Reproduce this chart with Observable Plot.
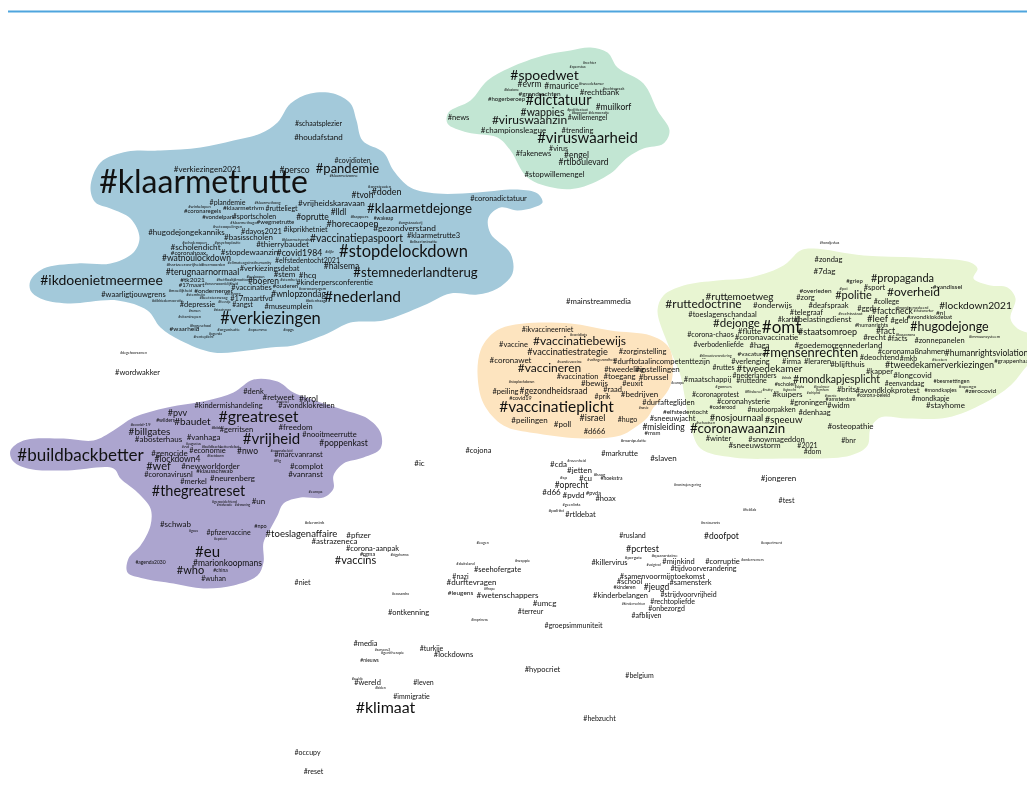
<!DOCTYPE html>
<html><head><meta charset="utf-8">
<style>html,body{margin:0;padding:0;background:#fff}svg{display:block}</style>
<script src="https://cdn.jsdelivr.net/npm/d3@7"></script>
<script src="https://cdn.jsdelivr.net/npm/@observablehq/plot@0.6"></script>
</head><body><div id="chart"></div>
<script>
const blueOutline=[[90,187],[100,162],[127,151],[160,150],[200,147],[233,140],[260,133],[277,122],[290,103],[310,93],[333,93],[350,103],[356,120],[362,140],[383,152],[393,170],[410,187],[437,193],[477,192],[517,189],[537,193],[542,202],[533,207],[517,210],[500,207],[488,217],[490,233],[510,253],[512,273],[497,288],[477,294],[450,293],[423,305],[383,320],[350,322],[327,333],[293,345],[270,347],[247,350],[213,352],[180,340],[160,327],[147,310],[117,300],[67,303],[40,298],[30,290],[30,280],[43,268],[77,263],[110,263],[133,252],[139,237],[130,218],[110,208],[95,202]];
const mintOutline=[[590,47],[607,52],[617,67],[643,83],[657,110],[669,130],[663,143],[643,148],[627,157],[610,173],[580,187],[557,188],[527,177],[510,150],[497,137],[467,132],[447,123],[448,112],[470,100],[487,80],[510,67],[543,55],[570,50]];
const orangeOutline=[[500,328],[523,323],[570,323],[610,330],[650,335],[667,345],[672,358],[670,385],[660,400],[653,407],[647,417],[633,428],[620,435],[583,438],[537,433],[503,425],[483,403],[477,373],[480,350],[488,337]];
const purpleOutline=[[253,379],[277,381],[293,392],[320,402],[345,410],[367,418],[380,432],[380,448],[363,457],[343,463],[333,475],[333,488],[323,497],[300,497],[283,503],[277,515],[270,528],[263,542],[263,562],[257,575],[233,585],[203,588],[173,583],[143,578],[127,572],[128,558],[140,545],[150,525],[150,508],[137,492],[120,478],[113,468],[67,470],[27,468],[12,460],[10,450],[23,440],[63,438],[93,440],[113,430],[133,417],[167,407],[207,400],[233,392]];
const limeOutline=[[657,310],[663,295],[683,285],[717,280],[750,277],[783,265],[800,250],[813,248],[863,255],[917,257],[970,262],[977,268],[973,278],[990,285],[1007,287],[1015,298],[1010,318],[1017,328],[1035,336],[1045,350],[1027,365],[1010,385],[983,403],[947,417],[907,418],[880,417],[870,428],[867,445],[850,455],[783,458],[733,457],[700,448],[690,425],[684,395],[680,375],[668,345]];

const blueTags=[["#verkiezingen2021",207,169,8],["#klaarmetrutte",203,182,32],["#persco",294,170,8.6],["#pandemie",347,168,13],["#covidioten",352,160,7],["#klaarmetzonne",343,175,4],["#schaatsplezier",318,123,7],["#houdafstand",318,137,8],["#coronadictatuur",498,198,7.5],["#tvoh",362,195,8.5],["#doden",386,192,9],["#angstzaaien",379,186,4],["#vrijheidskaravaan",331,203,8.2],["#klaarmetdejonge",419,208,13.3],["#lldl",338,212,8.5],["#oprutte",312,217,8.5],["#kappers",359,216,4.5],["#wakeap",383,218,5],["#angstzaaierij",410,222,4],["#horecaopen",352,224,9],["#gezondverstand",404,228,8.3],["#ikprikhetniet",305,229,7.2],["#klaarmetrutte3",433,235,7.5],["#vaccinatiepaspoort",356,238,10.5],["#discriminatie",423,241,4.5],["#klaarmetvondst",296,239,4],["#thierrybaudet",282,244,8],["#djlv",329,251,4],["#stopdelockdown",403,251,16.5],["#covid1984",299,253,8.7],["#elfstedentocht2021",307,260,7],["#halsema",341,266,8.5],["#stemnederlandterug",415,272,13.2],["#hcq",307,275,8],["#stem",284,274,8],["#stemhet",288,279,4],["#kinderpersconferentie",334,282,7.5],["#ouderen",285,286,6],["#coronamugem",312,288,4],["#wnlopzondag",298,294,8.5],["#bdenhaag",315,300,4],["#nederland",362,297,15.5],["#museumplein",288,306,7.5],["#verkiezingen",270,318,16.5],["#opgs",288,329,4],["#plandemie",227,202,7],["#winkelopen",199,206,4],["#klaarmetkoog",267,202,4],["#klaarmetrivm",243,207,6.5],["#coronaregels",202,211,6],["#rutteliegt",281,208,7],["#vondelpark",218,217,6],["#sportscholen",254,216,7],["#klaarmethugo",243,222,4],["#wegmetrutte",275,222,6],["#vetcoopelingen",227,226,4],["#hugodejongekanniks",186,232,8],["#davos2021",261,231,7.5],["#basisscholen",248,237,8],["#scholenopen",194,242,4],["#psychoplastic",227,242,4],["#scholendicht",195,247,8.2],["#coronahoax",188,253,6.2],["#stopdewaanzin",249,252,8],["#watnoulockdown",196,258,8.5],["#hartzeerovrijheid",184,264,4.5],["#vermoorden",213,264,4],["#climateagainsthumanity",249,262,4],["#verkiezingsdebat",269,268,7.5],["#terugnaarnormaal",202,272,8.8],["#tk2021",192,279,6.5],["#17maart",191,285,6],["#hetfloaltj",225,279,4],["#motion",241,279,4],["#besloopen",255,276,3.5],["#boeren",263,281,8.5],["#onverwoordelijkheid",221,283,3.5],["#vaccinaties",251,287,7.5],["#moeilijkheid",180,290,4],["#ondernemer",213,290,6.5],["#stemhulp",195,294,4],["#zelfzorg",232,293,4],["#beetsterzwaag",213,297,4],["#17maartfvd",251,298,7.5],["#dikkiedemocratie",167,300,3.8],["#waarligtjouwgrens",133,294,7.5],["#ikdoenietmeermee",101,280,14],["#depressie",197,304,7.5],["#angst",242,304,7],["#feestje",224,301,3.5],["#ramen",194,310,3.5],["#staatsman",222,309,3.5],["#vitaminepen",189,316,3.8],["#hogeschool",200,325,3.8],["#waarheid",184,328,6.5],["#organisatie",228,329,4.2],["#opsemma",257,329,3.8],["#agenda",215,333,3.5],["#renteplicht",203,336,3.8]];
const mintTags=[["#spoedwet",544,75,14],["#rechter",589,62,3.5],["#apenstaa",577,66,3.5],["#evrm",529,84,8.5],["#maurice",561,86,8.5],["#tweedekamer",591,83,3.8],["#rechtspraak",613,88,3.8],["#blazione",511,89,3.5],["#grondrechten",539,93,6.5],["#rechtbank",599,92,8],["#hogerberoep",506,99,6],["#dictatuur",558,100,14.5],["#muilkorf",613,107,8.5],["#politiestaat",577,109,3.8],["#bonsuur #democratie",590,112,3.8],["#wappies",542,112,10.5],["#willemengel",587,117,6.8],["#news",458,117,7.5],["#viruswaanzin",529,120,12],["#championsleague",513,130,8],["#trending",577,130,7.5],["#viruswaarheid",587,138,15],["#virus",558,148,7],["#fakenews",533,153,7.5],["#engel",576,155,8.5],["#rtlboulevard",583,162,8.5],["#stopwillemengel",554,174,7.8]];
const orangeTags=[["#ikvaccineerniet",547,329,7.2],["#covidiots",578,334,3.8],["#vaccinatiebewijs",579,341,12],["#vaccine",513,344,7.5],["#vaccinatiestrategie",567,352,9.2],["#zorginstelling",642,351,7.5],["#coronawet",510,360,8],["#vandevaccine",569,361,3.8],["#volksgezondheid",601,359,3.6],["#durftotaalincompetenttezijn",661,361,7.6],["#vaccineren",549,368,12],["#vaccination",577,376,7.5],["#tweedeling",624,369,7.5],["#instellingen",657,369,8],["#toegang",619,376,7.8],["#brussel",653,377,8],["#stoplockdown",521,381,3.8],["#bewijs",594,383,8],["#euxit",632,383,7.5],["#raad",612,389,7.5],["#peiling",505,391,7.5],["#gezondheidsraad",553,391,8.5],["#bedrijven",639,394,8],["#prik",602,396,7],["#covid19",520,398,5.5],["#durfafteglijden",668,402,7.5],["#vaccinatieplicht",556,407,15.5],["#nasic",643,407,3.5],["#hugo",627,419,7],["#peilingen",529,420,8],["#poll",562,424,8],["#israel",592,418,9],["#d666",594,431,7.5],["#elfstedentocht",685,411,6.5],["#sneeuwjacht",672,418,7.5],["#misleiding",663,427,8.5],["#msm",652,433,6],["#manipulatie",633,440,4.5],["#europa",677,382,3.5]];
const limeTags=[["#zondag",828,259,7.5],["#7dag",824,271,8],["#overleden",815,290,6.5],["#zorg",805,297,7.5],["#ruttemoetweg",739,296,10],["#ruttedoctrine",703,304,12],["#onderwijs",772,305,8],["#deafspraak",828,305,7.5],["#telegraaf",806,312,7.5],["#toeslagenschandaal",722,314,7.5],["#dejonge",736,323,11.5],["#kartel",788,319,7],["#belastingdienst",822,319,8],["#omt",781,327,17],["#flutte",749,331,8],["#corona-chaos",710,334,7.2],["#coronavaccinatie",766,337,8],["#staatsomroep",827,332,9],["#verbodenliefde",718,344,7],["#haga",759,345,7.5],["#goedemorgennederland",838,345,8],["#klimaatverandering",715,355,3.6],["#vacature",751,353,6.5],["#mensenrechten",810,352,13],["#ruttes",723,367,7],["#verlenging",750,361,7.5],["#irma",791,361,7.5],["#leraren",817,361,7.5],["#tweedekamer",769,368,10],["#blijfthuis",847,364,8],["#maatschappij",707,379,7.5],["#nederlanders",754,375,7],["#ruttedne",751,380,7],["#dnds",786,377,3.5],["#scholen",785,384,5.5],["#mondkapjesplicht",836,379,10.5],["#gonners",723,386,4],["#kapper",879,371,7.5],["#deochtend",879,357,7.5],["#mkb",908,358,7],["#coronamaßnahmen",911,351,7.5],["#humanrightsviolation",986,353,8.5],["#grappenhaar",1012,361,6],["#tweedekamerverkiezingen",939,365,9],["#testen",939,359,4.5],["#longcovid",912,375,8],["#eenvandaag",904,383,6.8],["#besmettingen",951,381,5.5],["#opengo",967,386,4.5],["#zerocovid",980,390,6.5],["#mondkapjes",940,390,5.5],["#avondklokprotest",887,390,7.8],["#brits",846,389,7.5],["#corona-beleid",873,395,5],["#amsterdam",840,399,5.5],["#widm",838,405,7.5],["#mondkapje",930,398,7],["#stayhome",945,405,8],["#osteopathie",850,426,8],["#bnr",848,440,7],["#propaganda",902,278,11],["#griep",854,281,6],["#pci",843,288,4.5],["#sport",874,287,7.5],["#yandissel",947,286,6.5],["#overheid",913,292,12],["#politie",853,295,11],["#college",886,301,7],["#lockdown2021",975,305,10.2],["#ggd",865,308,7.5],["#factcheck",892,311,8.5],["#rechtsstaat",850,313,4.5],["#mondgemaskeerd",912,307,3.8],["#thuiswerker",923,310,3.5],["#nl",940,312,6.5],["#leef",877,318,9.5],["#geld",899,320,7.5],["#avondklokdebat",929,317,6],["#humanrights",871,325,5.5],["#hugodejonge",949,326,12.5],["#fact",885,331,8.5],["#facts",897,338,7.5],["#recht",874,337,8],["#kuscorona",905,334,3.8],["#zonnepanelen",939,340,7.5],["#immuunsysteem",984,336,4],["#coronaprotest",715,394,7],["#flitsbevel",753,391,3.8],["#kuipers",787,394,8],["#nutty",767,389,3.5],["#utrecht",789,389,3.5],["#alpha",799,386,3.2],["#ijsselmeer",821,386,3.2],["#arnhem",822,389,3.2],["#schiphol",813,392,3.2],["#twente",830,395,3.2],["#groningen",808,402,7.5],["#coronahysterie",743,401,7.5],["#coderood",722,407,5.5],["#nudoorpakken",771,409,7],["#denhaag",814,412,7.5],["#nosjournaal",736,417,9.5],["#sneeuw",783,419,9.5],["#schaatsen",705,422,3.8],["#coronawaanzin",737,428,13.3],["#winter",718,438,7.5],["#snowmageddon",776,439,7.5],["#sneeuwstorm",754,445,8],["#2021",807,445,7],["#dom",812,451,7]];
const purpleTags=[["#denk",253,391,7.5],["#retweet",278,397,8],["#krol",308,399,8.5],["#wjetel",282,401,3.8],["#kindermishandeling",228,405,7.5],["#avondklokrellen",306,405,7.5],["#pvv",177,413,9],["#wilders",165,420,5],["#baudet",192,421,10],["#greatreset",258,416,16],["#covid-19",140,424,4.5],["#bbb",216,427,4.5],["#gerritsen",236,429,7.5],["#freedom",295,427,8],["#billgates",149,431,10],["#nooitmeerrutte",329,434,7.5],["#vanhaga",203,437,8],["#abosterhaus",158,439,8],["#vrijheid",271,439,15],["#poppenkast",343,443,8.5],["#vvd",185,446,3.5],["#augustus",193,443,3.3],["#buildbackbetterdebat",220,446,3.8],["#coronabeleid",281,450,3.5],["#buildbackbetter",80,455,17],["#genocide",169,453,8],["#economie",207,450,7.5],["#nwo",247,451,8.5],["#marcvanranst",298,454,7.5],["#lockdown4",177,459,8.5],["#factdown",215,455,3.5],["#f5g",277,460,3.5],["#wef",158,466,11],["#newworldorder",210,466,8],["#complot",306,466,8],["#klausschwab",214,471,6],["#coronavirusnl",168,474,7.5],["#vanranst",305,474,8],["#neurenberg",232,478,8],["#merkel",193,481,7.5],["#thegreatreset",198,491,14.5],["#europa",315,491,3.8],["#genocidefriend",224,501,3.5],["#ntdvcode",224,504,3.3],["#drowning",242,504,3.3],["#un",258,501,8],["#schwab",175,524,8],["#npo",260,526,5.5],["#goes",193,530,3.5],["#pfizervaccine",228,532,7],["#toeslagenaffaire",301,533,9.5],["#epstein",220,538,3.5],["#eu",207,552,15],["#agenda2030",150,562,5],["#marionkoopmans",227,563,8.5],["#who",190,570,11],["#china",220,570,5],["#wuhan",213,578,7]];
const looseTags=[["#hondjeskus",829,242,3.5],["#degehoorzamen",133,352,3.5],["#wordwakker",137,372,7.5],["#mainstreammedia",598,301,7.8],["#denmink",314,522,4.5],["#pfizer",358,535,8],["#astrazeneca",334,541,8],["#corona-aanpak",372,548,7.5],["#rgma",367,554,5.5],["#bigpharma",399,554,3.5],["#vaccins",355,560,11],["#niet",302,582,7],["#cojona",478,450,7.5],["#ic",419,463,8],["#markrutte",619,453,7.5],["#slaven",663,458,8],["#ravenheid",576,460,3.8],["#cda",558,464,8],["#jetten",579,470,8],["#kaag",599,474,4.5],["#hoekstra",611,478,5],["#sp",563,477,4.5],["#cu",585,478,8],["#oprecht",571,485,8.5],["#d66",551,492,8],["#pvdd",573,495,8],["#pvda",593,493,5.5],["#hoax",605,498,7.5],["#geenlinks",571,504,3.8],["#politici",556,510,4.5],["#rtldebat",580,514,7.5],["#rusland",632,535,7],["#nostrajeregering",687,484,3.5],["#jongeren",778,478,8],["#test",786,500,7],["#fieldlab",749,509,3.5],["#restaurants",710,522,3.5],["#doofpot",721,536,8.5],["#experiment",771,542,3.8],["#corruptie",722,561,7.5],["#ondernemers",752,559,3.5],["#tijdvoorverandering",703,568,7.2],["#leugen",482,542,3.5],["#wappie",522,560,4],["#duitsland",465,563,4],["#seehofergate",497,569,7.5],["#nazi",460,576,7],["#durftevragen",471,582,8],["#fhope",489,588,3.5],["#leugens",460,592,6.5],["#wetenschappers",507,595,8],["#umcg",544,603,8],["#terreur",530,611,7],["#cassandra",400,593,3.5],["#ontkenning",408,612,7.5],["#imprinvas",479,619,3.5],["#groepsimmuniteit",573,625,7],["#pcrtest",642,549,9],["#pcrgate",633,557,4.5],["#quarantaine",664,555,4.5],["#killervirus",609,562,7.5],["#voigtvol",653,564,3.5],["#mijnkind",678,561,7.5],["#samenvoormijntoekomst",662,576,7.5],["#school",629,581,7.5],["#samensterk",690,582,7.5],["#kinderen",624,587,5],["#jeugd",656,587,8.5],["#kinderbelangen",620,595,7.5],["#strijdvoorvrijheid",688,594,7],["#kinderrechten",633,603,3.5],["#rechtopliefde",672,601,7],["#onbezorgd",666,608,7],["#afblijven",646,615,7],["#media",365,643,7.5],["#sarscov2",382,649,3.5],["#genitherapie",392,652,3.8],["#turkije",431,648,7],["#lockdowns",453,654,7.5],["#nieuws",369,660,5],["#beeldje",357,679,3],["#wereld",367,682,7.5],["#leven",423,682,7],["#biden",380,687,3.5],["#immigratie",411,696,7],["#klimaat",385,707,16],["#hypocriet",542,669,7.5],["#belgium",639,675,7],["#hebzucht",599,718,7],["#occupy",307,752,7],["#reset",313,771,7]];

const blobs=[[limeOutline,"#e8f5d2"],[mintOutline,"#c2e6d3"],[orangeOutline,"#fde4bf"],[blueOutline,"#a3c9da"],[purpleOutline,"#aca5cf"]];
const allTags=[...blueTags,...mintTags,...orangeTags,...limeTags,...purpleTags,...looseTags];
const headerRule=[{y:11,x1:8,x2:1027}];

const chart=Plot.plot({
  width:1027,height:798,margin:0,
  x:{domain:[0,1027],range:[0,1027],axis:null},
  y:{domain:[0,798],range:[0,798],axis:null},
  marks:[
    Plot.ruleY(headerRule,{y:"y",x1:"x1",x2:"x2",stroke:"#4ea5de",strokeWidth:2}),
    ...blobs.map(([pts,color])=>Plot.line(pts,{x:d=>d[0],y:d=>d[1],fill:color,stroke:"none",curve:"catmull-rom-closed"})),
    Plot.text(allTags,{text:d=>d[0],x:d=>d[1],y:d=>d[2],fontSize:d=>d[3],fill:"#111",imageFilter:"blur(0.25px)",fontFamily:"Lato, sans-serif",textAnchor:"middle",lineAnchor:"middle"})
  ]
});
document.getElementById("chart").append(chart);
</script></body></html>
